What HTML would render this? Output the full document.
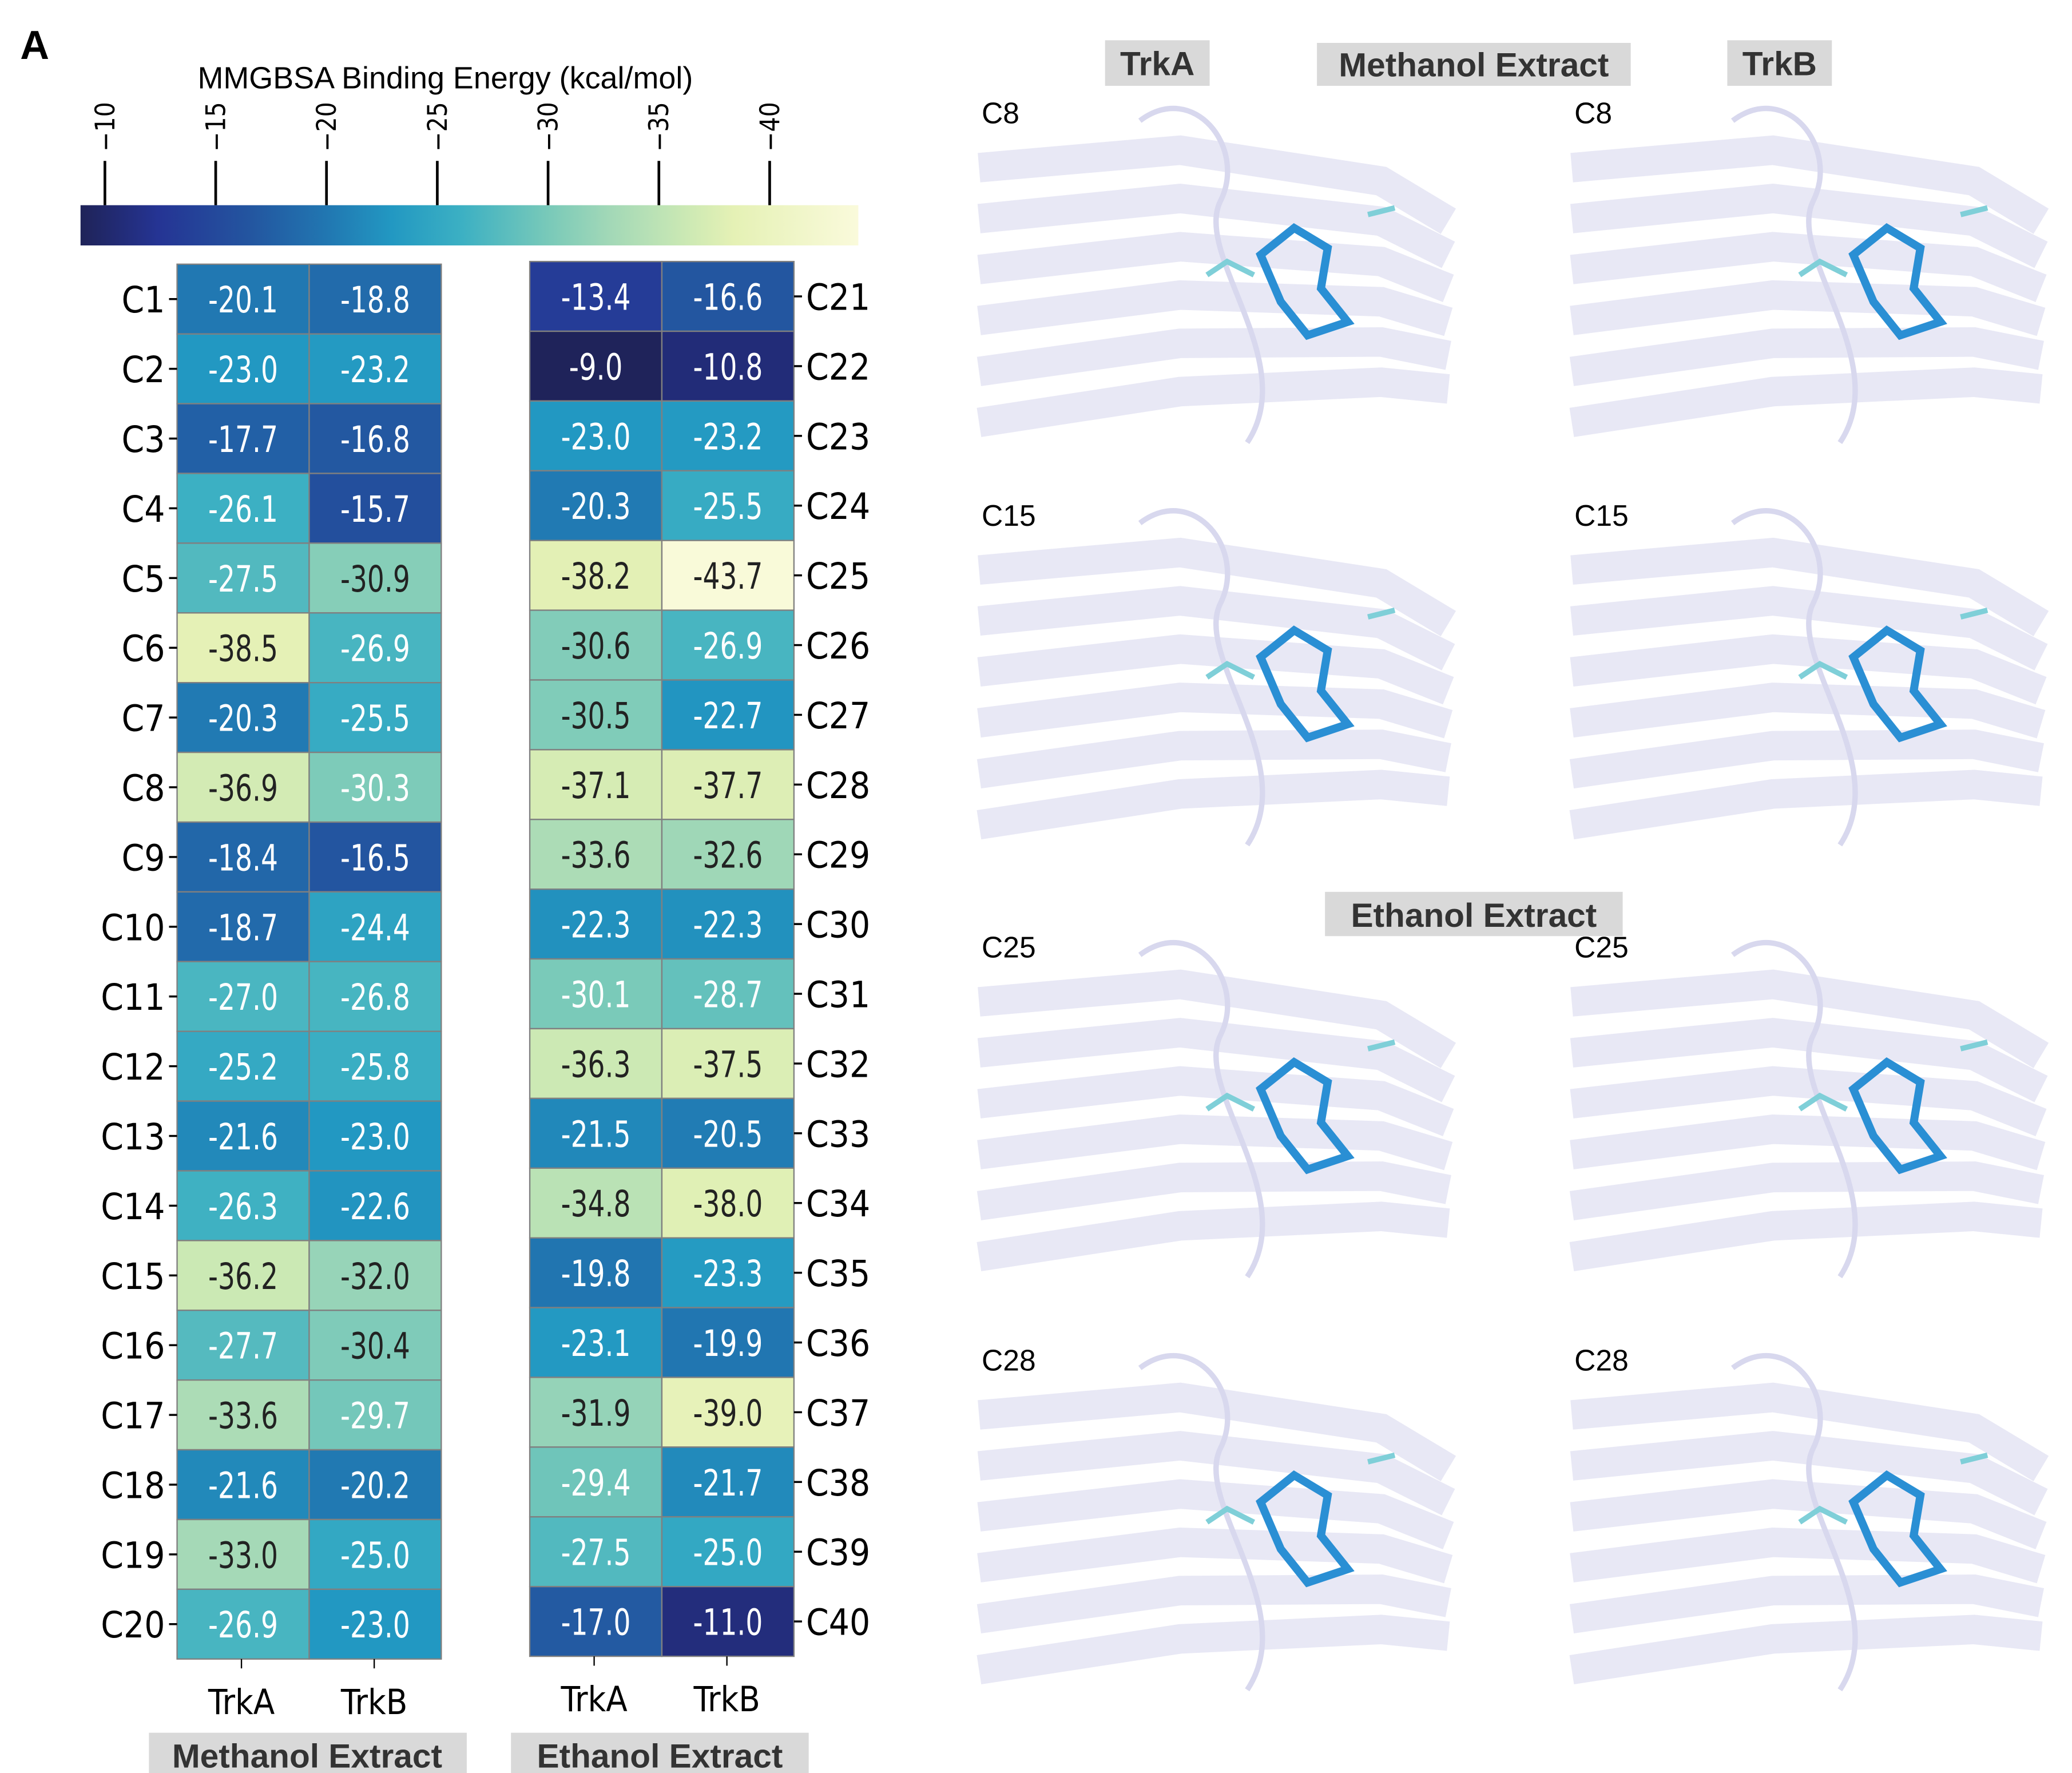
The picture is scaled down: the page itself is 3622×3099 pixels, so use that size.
<!DOCTYPE html>
<html><head><meta charset="utf-8"><style>
html,body{margin:0;padding:0;background:#fff}
svg{display:block}
.lab{font-family:"DejaVu Sans Condensed","DejaVu Sans",sans-serif}
.bold{font-family:"Liberation Sans",sans-serif;font-weight:bold}
</style></head><body>
<svg id="fig" width="3622" height="3099" viewBox="0 0 1545 1322" xmlns="http://www.w3.org/2000/svg">
<defs>
<linearGradient id="cb" x1="0" x2="1" y1="0" y2="0">
<stop offset="0" stop-color="#1f2358"/><stop offset="0.1" stop-color="#253494"/><stop offset="0.22" stop-color="#2356a0"/><stop offset="0.32" stop-color="#2178b2"/><stop offset="0.4" stop-color="#2298c2"/><stop offset="0.49" stop-color="#3cb0c3"/><stop offset="0.6" stop-color="#78c9b9"/><stop offset="0.68" stop-color="#a2d8b7"/><stop offset="0.78" stop-color="#cce9b4"/><stop offset="0.84" stop-color="#e5f1b5"/><stop offset="1" stop-color="#fafadb"/>
</linearGradient>
</defs>
<text class="bold" x="15" y="44" font-size="30">A</text>
<text x="332" y="66" font-family="Liberation Sans,sans-serif" font-size="23" text-anchor="middle">MMGBSA Binding Energy (kcal/mol)</text>
<rect x="60" y="153" width="580" height="30" fill="url(#cb)"/>
<g id="cbticks"></g>
<g id="heat"></g>
<text class="lab" x="180" y="1278" font-size="26" text-anchor="middle">TrkA</text>
<text class="lab" x="279" y="1278" font-size="26" text-anchor="middle">TrkB</text>
<text class="lab" x="443" y="1276" font-size="26" text-anchor="middle">TrkA</text>
<text class="lab" x="542" y="1276" font-size="26" text-anchor="middle">TrkB</text>
<line x1="180" y1="1237" x2="180" y2="1244" stroke="#000"/><line x1="279" y1="1237" x2="279" y2="1244" stroke="#000"/>
<line x1="443" y1="1235" x2="443" y2="1242" stroke="#000"/><line x1="542" y1="1235" x2="542" y2="1242" stroke="#000"/>
<rect x="111" y="1292" width="237" height="33" fill="#d9d9d9"/>
<text class="bold" x="229" y="1318" font-size="25" text-anchor="middle" fill="#333">Methanol Extract</text>
<rect x="381" y="1292" width="222" height="33" fill="#d9d9d9"/>
<text class="bold" x="492" y="1318" font-size="25" text-anchor="middle" fill="#333">Ethanol Extract</text>

<g id="panels">
<rect x="824" y="30" width="78" height="34" fill="#d9d9d9"/><text class="bold" x="863" y="56" font-size="25" text-anchor="middle" fill="#333">TrkA</text>
<rect x="982" y="32" width="234" height="32" fill="#d9d9d9"/><text class="bold" x="1099" y="57" font-size="25" text-anchor="middle" fill="#333">Methanol Extract</text>
<rect x="1288" y="30" width="78" height="34" fill="#d9d9d9"/><text class="bold" x="1327" y="56" font-size="25" text-anchor="middle" fill="#333">TrkB</text>
<rect x="988" y="665" width="222" height="33" fill="#d9d9d9"/><text class="bold" x="1099" y="691" font-size="25" text-anchor="middle" fill="#333">Ethanol Extract</text>
</g>
</svg>
<script>
const rowsLeft=["C1","C2","C3","C4","C5","C6","C7","C8","C9","C10","C11","C12","C13","C14","C15","C16","C17","C18","C19","C20"];
const rowsRight=["C21","C22","C23","C24","C25","C26","C27","C28","C29","C30","C31","C32","C33","C34","C35","C36","C37","C38","C39","C40"];
const methTrkA=[-20.1,-23.0,-17.7,-26.1,-27.5,-38.5,-20.3,-36.9,-18.4,-18.7,-27.0,-25.2,-21.6,-26.3,-36.2,-27.7,-33.6,-21.6,-33.0,-26.9];
const methTrkB=[-18.8,-23.2,-16.8,-15.7,-30.9,-26.9,-25.5,-30.3,-16.5,-24.4,-26.8,-25.8,-23.0,-22.6,-32.0,-30.4,-29.7,-20.2,-25.0,-23.0];
const ethTrkA=[-13.4,-9.0,-23.0,-20.3,-38.2,-30.6,-30.5,-37.1,-33.6,-22.3,-30.1,-36.3,-21.5,-34.8,-19.8,-23.1,-31.9,-29.4,-27.5,-17.0];
const ethTrkB=[-16.6,-10.8,-23.2,-25.5,-43.7,-26.9,-22.7,-37.7,-32.6,-22.3,-28.7,-37.5,-20.5,-38.0,-23.3,-19.9,-39.0,-21.7,-25.0,-11.0];
const cbTicks=[-10,-15,-20,-25,-30,-35,-40];
const NS="http://www.w3.org/2000/svg";
function mk(t,a,p){const e=document.createElementNS(NS,t);for(const k in a)e.setAttribute(k,a[k]);p.appendChild(e);return e;}
const vmin=-8.9,vmax=-44.0,cbx0=60,cbx1=640;
function cx(v){return cbx0+(v-vmin)/(vmax-vmin)*(cbx1-cbx0);}
const stops=[[0,[31,35,88]],[0.1,[37,52,148]],[0.22,[35,86,160]],[0.32,[33,120,178]],[0.4,[34,152,194]],[0.49,[60,176,195]],[0.6,[120,201,185]],[0.68,[162,216,183]],[0.78,[204,233,180]],[0.84,[229,241,181]],[1,[250,250,219]]];
function col(v){let t=(v-vmin)/(vmax-vmin);t=Math.max(0,Math.min(1,t));for(let i=1;i<stops.length;i++){if(t<=stops[i][0]){const a=stops[i-1],b=stops[i];const f=(t-a[0])/(b[0]-a[0]);const c=a[1].map((x,j)=>Math.round(x+(b[1][j]-x)*f));return "rgb("+c.join(",")+")";}}return "rgb(250,250,219)";}
const cbg=document.getElementById('cbticks');
cbTicks.forEach(v=>{const x=cx(v);
 const l=mk('line',{x1:x,y1:120,x2:x,y2:153,stroke:'#000','stroke-width':2},cbg);
 
 
 const t=mk('text',{x:0,y:0,'font-size':20,'font-family':'DejaVu Sans,sans-serif',transform:'translate('+(x+7)+',113) rotate(-90)',textLength:37,lengthAdjust:'spacingAndGlyphs'},cbg);
 t.textContent=String(v).replace('-','\u2212');
 
 
});
const hg=document.getElementById('heat');
const rowH=52,cw=98.5;
function block(x0,y0,rows,a,b,side){
 rows.forEach((r,i)=>{[a[i],b[i]].forEach((v,j)=>{
  const x=x0+j*cw,y=y0+i*rowH;
  const c=mk('rect',{x:x,y:y,width:cw,height:rowH,fill:col(v),stroke:'#808080','stroke-width':1},hg);
  
  
  const s=v.toFixed(1);
  const t=mk('text',{x:x+cw/2,y:y+rowH/2+10,'font-size':27,'text-anchor':'middle','class':'lab',fill:v>-30.4?'#fff':'#222',textLength:(s.length>4?52:40),lengthAdjust:'spacingAndGlyphs'},hg);
  t.textContent=s;
  
  
 });
 const ty=y0+i*rowH+rowH/2;
 if(side==='left'){mk('line',{x1:x0-6,y1:ty,x2:x0,y2:ty,stroke:'#000','stroke-width':1.5},hg);
  const t=mk('text',{x:x0-9,y:ty+10,'font-size':27,'text-anchor':'end','class':'lab'},hg);t.textContent=r;
  
  }
 else{const xe=x0+2*cw;mk('line',{x1:xe,y1:ty,x2:xe+6,y2:ty,stroke:'#000','stroke-width':1.5},hg);
  const t=mk('text',{x:xe+9,y:ty+10,'font-size':27,'class':'lab'},hg);t.textContent=r;
  
  }
 });
}
block(132,197,rowsLeft,methTrkA,methTrkB,'left');
block(395,195,rowsRight,ethTrkA,ethTrkB,'right');

const pg=document.getElementById('panels');
const panels=[[730,70,"C8"],[1172,70,"C8"],[730,370,"C15"],[1172,370,"C15"],[730,692,"C25"],[1172,692,"C25"],[730,1000,"C28"],[1172,1000,"C28"]];
panels.forEach((p,k)=>{const x=p[0],y=p[1],n=p[2];
 const g=mk('g',{},pg);
 
 
 for(let s=0;s<6;s++){mk('path',{d:'M'+x+' '+(y+55+s*38)+' L'+(x+150)+' '+(y+42+s*36)+' L'+(x+300)+' '+(y+65+s*30)+' L'+(x+350)+' '+(y+95+s*25),fill:'none',stroke:'#e6e6f4','stroke-width':22,opacity:0.9},g);}
 mk('path',{d:'M'+(x+120)+' '+(y+20)+' C'+(x+160)+' '+(y-10)+' '+(x+200)+' '+(y+40)+' '+(x+180)+' '+(y+80)+' S'+(x+240)+' '+(y+200)+' '+(x+200)+' '+(y+260),fill:'none',stroke:'#d8d8ee','stroke-width':4},g);
 mk('path',{d:'M'+(x+210)+' '+(y+120)+' l25 -20 l25 15 l-5 30 l20 25 l-30 10 l-20 -25 z',fill:'none',stroke:'#2a8fd4','stroke-width':6},g);
 mk('path',{d:'M'+(x+170)+' '+(y+135)+' l15 -10 l20 10 M'+(x+290)+' '+(y+90)+' l20 -5',fill:'none',stroke:'#7fcfd8','stroke-width':4},g);
 const t=mk('text',{x:x+2,y:y+22,'font-size':22,'font-family':'Liberation Sans,sans-serif'},g);t.textContent=n;
});
</script>
</body></html>
